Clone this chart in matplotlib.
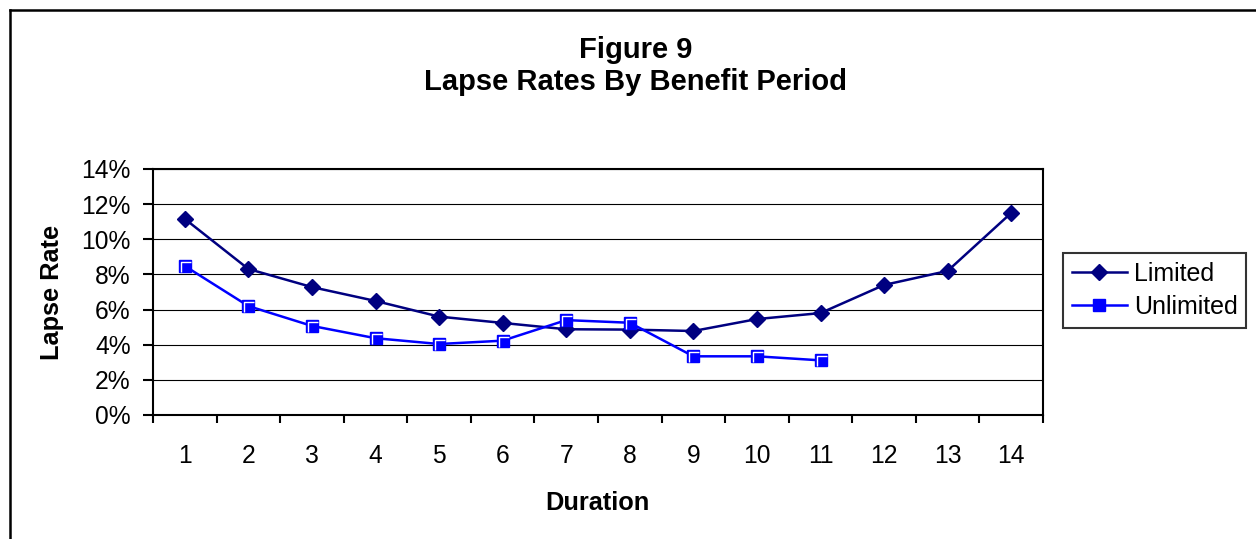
import matplotlib.pyplot as plt
from matplotlib.lines import Line2D
from matplotlib.path import Path
from matplotlib.ticker import FixedLocator, PercentFormatter
import numpy as np

plt.rcParams['font.family'] = ['Liberation Sans', 'DejaVu Sans']

durations = list(range(1, 15))
limited = [11.16, 8.31, 7.28, 6.49, 5.60, 5.24, 4.88, 4.86, 4.78, 5.46, 5.80, 7.40, 8.20, 11.50]
unlimited = [8.48, 6.20, 5.07, 4.37, 4.04, 4.23, 5.40, 5.25, 3.34, 3.34, 3.11]
y_ticks = [0, 2, 4, 6, 8, 10, 12, 14]

W, H = 1256, 539
fig = plt.figure(figsize=(W / 100, H / 100), dpi=100)
ax = fig.add_axes([153 / W, 1 - 415 / H, 890 / W, 246 / H])

# outer chart border (left and top only visible)
x0 = 9.5 / W
y0 = 1 - 9.5 / H
fig.add_artist(Line2D([x0, x0], [0, y0], color='black', lw=1.8, transform=fig.transFigure))
fig.add_artist(Line2D([x0, 1.01], [y0, y0], color='black', lw=1.8, transform=fig.transFigure))

ax.set_axisbelow(True)
ax.yaxis.grid(True, color='black', lw=0.8)

# white corner highlight inside the excel-style square marker
corner = Path([(-0.6, -0.9), (-0.6, 0.6), (0.9, 0.6)],
              [Path.MOVETO, Path.LINETO, Path.LINETO])

ax.plot(durations, limited, color='#000080', lw=1.8, marker='D', markersize=8.5,
        label='Limited', zorder=3)
ux = durations[:len(unlimited)]
ax.plot(ux, unlimited, color='#0000ff', lw=1.8, marker='s', markersize=8,
        markerfacecolor='#0000ff', markeredgecolor='#0000ff', label='Unlimited', zorder=4)
ax.plot(ux, unlimited, ls='none', marker=corner, markersize=8, markerfacecolor='none',
        markeredgecolor='white', markeredgewidth=1.0, zorder=5)

ax.set_xlim(0.5, 14.5)
ax.set_ylim(0, 14)
ax.yaxis.set_major_locator(FixedLocator(y_ticks))
ax.yaxis.set_major_formatter(PercentFormatter(decimals=0))

ax.xaxis.set_major_locator(FixedLocator(np.arange(0.5, 15, 1)))
ax.xaxis.set_minor_locator(FixedLocator(durations))
ax.set_xticklabels([], minor=False)
ax.set_xticklabels([str(d) for d in durations], minor=True)
ax.tick_params(axis='x', which='major', direction='out', length=6, width=1.5)
ax.tick_params(axis='x', which='minor', length=0, pad=21, labelsize=17.7)
ax.tick_params(axis='y', direction='out', length=7, width=1.5, pad=9, labelsize=17.7)

for s in ax.spines.values():
    s.set_linewidth(1.5)
    s.set_color('black')

fig.text(636 / W, 1 - 58 / H, 'Figure 9', ha='center', va='baseline',
         fontsize=21, fontweight='bold')
fig.text(636 / W, 1 - 90 / H, 'Lapse Rates By Benefit Period', ha='center', va='baseline',
         fontsize=21, fontweight='bold')
fig.text(52 / W, 1 - 292 / H, 'Lapse Rate', rotation=90, ha='center', va='center',
         fontsize=18.3, fontweight='bold')
fig.text(597 / W, 1 - 510 / H, 'Duration', ha='center', va='baseline',
         fontsize=18.3, fontweight='bold')

leg = fig.legend(handles=ax.get_lines()[:2], loc='center left',
                 bbox_to_anchor=(1063 / W, 1 - 290.5 / H), frameon=True, fancybox=False,
                 edgecolor='black', fontsize=18, handlelength=2.2, handletextpad=0.28,
                 borderpad=0.35, labelspacing=0.35, borderaxespad=0)
leg.get_frame().set_linewidth(1.5)

fig.savefig('out.png', dpi=100)
